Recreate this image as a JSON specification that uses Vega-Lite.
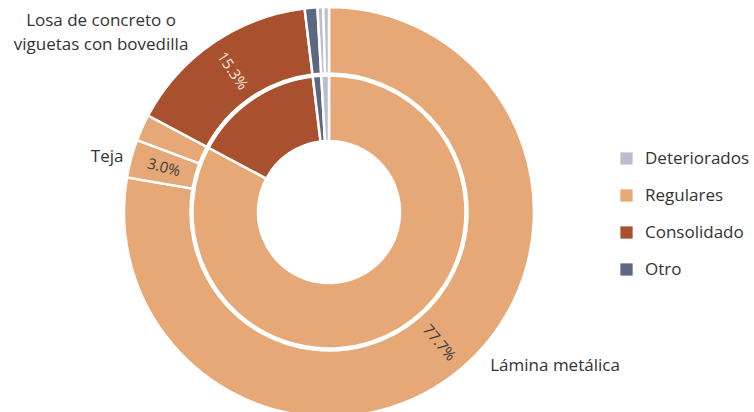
{
  "$schema": "https://vega.github.io/schema/vega-lite/v6.json",
  "width": 658,
  "height": 424,
  "autosize": {"type": "none"},
  "padding": {"left": 0, "top": 0, "right": 96, "bottom": -12},
  "background": "white",
  "config": {"view": {"stroke": null}, "font": "Open Sans"},
  "datasets": {
    "interior": [
      {"estado": "Regulares", "valor": 82.8, "orden": 1},
      {"estado": "Consolidado", "valor": 15.3, "orden": 2},
      {"estado": "Otro", "valor": 1.0, "orden": 3},
      {"estado": "Deteriorados", "valor": 0.9, "orden": 4}
    ],
    "exterior": [
      {"material": "Lámina metálica", "estado": "Regulares", "valor": 77.7, "pct": "77.7%", "orden": 1},
      {"material": "Teja", "estado": "Regulares", "valor": 3.0, "pct": "3.0%", "orden": 2},
      {"material": "Otros regulares", "estado": "Regulares", "valor": 2.1, "pct": "", "orden": 3},
      {"material": "Losa de concreto o viguetas con bovedilla", "estado": "Consolidado", "valor": 15.3, "pct": "15.3%", "orden": 4},
      {"material": "Otro", "estado": "Otro", "valor": 1.0, "pct": "", "orden": 5},
      {"material": "Deteriorado A", "estado": "Deteriorados", "valor": 0.45, "pct": "", "orden": 6},
      {"material": "Deteriorado B", "estado": "Deteriorados", "valor": 0.45, "pct": "", "orden": 7}
    ]
  },
  "layer": [
    {
      "data": {"name": "interior"},
      "mark": {"type": "arc", "radius": 136.5, "radius2": 71, "stroke": "white", "strokeWidth": 2.5},
      "encoding": {
        "theta": {"field": "valor", "type": "quantitative", "stack": true},
        "order": {"field": "orden", "type": "quantitative"},
        "color": {
          "field": "estado",
          "type": "nominal",
          "scale": {
            "domain": ["Deteriorados", "Regulares", "Consolidado", "Otro"],
            "range": ["#BBBDCB", "#E6A876", "#A9502E", "#5C6780"]
          },
          "legend": {
            "title": null,
            "orient": "none",
            "legendX": 618,
            "legendY": 150,
            "symbolType": "square",
            "symbolSize": 150,
            "symbolStrokeWidth": 0,
            "symbolOpacity": 1,
            "labelFontSize": 17,
            "labelColor": "#333333",
            "labelOffset": 10,
            "rowPadding": 19
          }
        }
      }
    },
    {
      "data": {"name": "exterior"},
      "mark": {"type": "arc", "radius": 205, "radius2": 138.5, "stroke": "white", "strokeWidth": 2.5},
      "encoding": {
        "theta": {"field": "valor", "type": "quantitative", "stack": true},
        "order": {"field": "orden", "type": "quantitative"},
        "color": {"field": "estado", "type": "nominal"}
      }
    },
    {
      "data": {"name": "exterior"},
      "mark": {"type": "text", "radius": 171, "fontSize": 15, "align": "center", "baseline": "middle"},
      "encoding": {
        "theta": {"field": "valor", "type": "quantitative", "stack": true},
        "order": {"field": "orden", "type": "quantitative"},
        "text": {"field": "pct"},
        "angle": {
          "condition": [
            {"test": "datum.material === 'Teja'", "value": 15},
            {"test": "datum.orden === 4", "value": 56}
          ],
          "value": 50
        },
        "color": {
          "condition": {"test": "datum.orden === 4", "value": "#F6E7DA"},
          "value": "#3A3A3A"
        }
      }
    },
    {
      "data": {"name": "exterior"},
      "mark": {"type": "text", "radius": 216, "fontSize": 17, "align": "left", "baseline": "alphabetic", "dx": 22, "dy": -6, "color": "#333333"},
      "encoding": {
        "theta": {"field": "valor", "type": "quantitative", "stack": true},
        "order": {"field": "orden", "type": "quantitative"},
        "text": {"condition": {"test": "datum.orden === 1", "field": "material"}, "value": ""}
      }
    },
    {
      "data": {"name": "exterior"},
      "mark": {"type": "text", "radius": 216, "fontSize": 17, "align": "right", "baseline": "alphabetic", "dx": 3, "dy": 6, "color": "#333333"},
      "encoding": {
        "theta": {"field": "valor", "type": "quantitative", "stack": true},
        "order": {"field": "orden", "type": "quantitative"},
        "text": {"condition": {"test": "datum.orden === 2", "field": "material"}, "value": ""}
      }
    },
    {
      "data": {"name": "exterior"},
      "mark": {"type": "text", "radius": 216, "fontSize": 17, "align": "center", "baseline": "alphabetic", "lineHeight": 24, "dx": -106, "dy": -7.5, "color": "#333333"},
      "encoding": {
        "theta": {"field": "valor", "type": "quantitative", "stack": true},
        "order": {"field": "orden", "type": "quantitative"},
        "text": {"condition": {"test": "datum.orden === 4", "value": ["Losa de concreto o", "viguetas con bovedilla"]}, "value": ""}
      }
    }
  ]
}
